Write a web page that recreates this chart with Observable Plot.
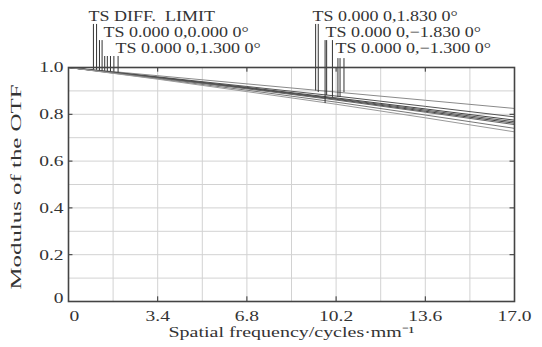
<!DOCTYPE html>
<html><head><meta charset="utf-8">
<script src="https://cdn.jsdelivr.net/npm/d3@7"></script>
<script src="https://cdn.jsdelivr.net/npm/@observablehq/plot@0.6"></script>
<style>
body{margin:0;background:#fff;}
</style></head><body><div id="chart"></div>
<script>
// ---- data ----
const freq = [0, 3.4, 6.8, 10.2, 13.6, 17.0];
const seriesNames = ["DIFF T", "DIFF S", "F0 T", "F0 S", "F13 T", "F13 S", "F183 T", "F183 S"];
const diffT  = [1, 0.965, 0.930, 0.895, 0.860, 0.825];
const diffS  = [1, 0.960, 0.919, 0.878, 0.834, 0.789];
const f0T    = [1, 0.958, 0.915, 0.870, 0.823, 0.775];
const f0S    = [1, 0.957, 0.913, 0.867, 0.818, 0.768];
const f13T   = [1, 0.956, 0.911, 0.864, 0.813, 0.762];
const f13S   = [1, 0.955, 0.909, 0.861, 0.809, 0.756];
const f183T  = [1, 0.952, 0.903, 0.852, 0.797, 0.740];
const f183S  = [1, 0.950, 0.897, 0.843, 0.785, 0.725];
const seriesValues = [diffT, diffS, f0T, f0S, f13T, f13S, f183T, f183S];
const seriesColors = ["#8a8a8a", "#555", "#444", "#555", "#444", "#666", "#777", "#9a9a9a"];

const xTickValues = [0, 3.4, 6.8, 10.2, 13.6, 17.0];
const xTickLabels = ["0", "3.4", "6.8", "10.2", "13.6", "17.0"];
const yTickValues = [0, 0.2, 0.4, 0.6, 0.8, 1.0];
const yTickLabels = ["0", "0.2", "0.4", "0.6", "0.8", "1.0"];
const xGrid = [1.7, 3.4, 5.1, 6.8, 8.5, 10.2, 11.9, 13.6, 15.3];
const yGrid = [0.1, 0.2, 0.3, 0.4, 0.5, 0.6, 0.7, 0.8, 0.9];

const labelTexts = ["TS DIFF.  LIMIT", "TS 0.000 0,0.000 0°", "TS 0.000 0,1.300 0°",
                    "TS 0.000 0,1.830 0°", "TS 0.000 0,\u22121.830 0°", "TS 0.000 0,\u22121.300 0°"];
const labelFreq = [0.76, 1.33, 1.79, 9.30, 9.80, 10.18];
const labelLevel = [1.218, 1.150, 1.081, 1.218, 1.150, 1.081];

const leaderFreq   = [0.95, 1.07, 1.18, 1.28, 1.38, 1.48, 1.60, 1.73, 1.89,
                      9.42, 9.52, 9.78, 9.84, 10.06, 10.27, 10.35, 10.50];
const leaderBottom = [0.990, 0.988, 0.986, 0.985, 0.984, 0.983, 0.982, 0.980, 0.978,
                      0.900, 0.893, 0.846, 0.880, 0.872, 0.872, 0.872, 0.893];
const leaderTop    = [1.184, 1.184, 1.115, 1.115, 1.047, 1.047, 1.047, 1.047, 1.047,
                      1.184, 1.184, 1.115, 1.115, 1.115, 1.038, 1.038, 1.038];

const xTitle = "Spatial frequency/cycles\u00b7mm\u207b\u00b9";
const yTitle = "Modulus of the OTF";

// ---- tables ----
const rows = [];
seriesNames.forEach((s, i) => freq.forEach((f, j) => rows.push({series: s, x: f, y: seriesValues[i][j]})));
const xTicks = xTickValues.map((v, i) => ({v, t: xTickLabels[i]}));
const yTicks = yTickValues.map((v, i) => ({v, t: yTickLabels[i]}));
const labels = labelTexts.map((t, i) => ({t, x: labelFreq[i], y: labelLevel[i]}));
const leaders = leaderFreq.map((x, i) => ({x, y1: leaderBottom[i], y2: leaderTop[i]}));

const ink = "#333";
const chart = Plot.plot({
  width: 542, height: 347,
  marginLeft: 68, marginRight: 28, marginTop: 67, marginBottom: 46,
  x: {domain: [0, 17], axis: null},
  y: {domain: [0, 1], axis: null},
  color: {domain: seriesNames, range: seriesColors},
  style: {fontFamily: "'Liberation Serif', 'Times New Roman', serif", fontSize: "15px", color: ink, background: "#fff"},
  marks: [
    Plot.ruleX(xGrid, {stroke: "#d2d2d2", strokeWidth: 1}),
    Plot.ruleY(yGrid, {stroke: "#d2d2d2", strokeWidth: 1}),
    Plot.ruleX(xTickValues, {y1: 0, y2: 0.02, stroke: ink}),
    Plot.ruleX(xTickValues, {y1: 0.98, y2: 1, stroke: ink}),
    Plot.ruleY(yTickValues, {x1: 0, x2: 0.17, stroke: ink}),
    Plot.ruleY(yTickValues, {x1: 16.83, x2: 17, stroke: ink}),
    Plot.line(rows, {x: "x", y: "y", z: "series", stroke: "series", strokeWidth: 1}),
    Plot.ruleX(leaders, {x: "x", y1: "y1", y2: "y2", stroke: "#333", strokeWidth: 1}),
    Plot.frame({stroke: "#444", strokeWidth: 1.6}),
    Plot.text(xTicks.slice(1), {x: "v", y: 0, text: "t", dy: 15, fill: ink, className: "st"}),
    Plot.text(xTicks.slice(0, 1), {x: "v", y: 0, text: "t", dy: 15, dx: 1, textAnchor: "start", fill: ink, className: "st"}),
    Plot.text(yTicks.slice(1), {x: 0, y: "v", text: "t", dx: -5, textAnchor: "end", fill: ink, className: "st"}),
    Plot.text(yTicks.slice(0, 1), {x: 0, y: "v", text: "t", dx: -5, dy: -3, textAnchor: "end", fill: ink, className: "st"}),
    Plot.text(labels, {x: "x", y: "y", text: "t", textAnchor: "start", fill: ink, className: "sl"}),
    Plot.text([xTitle], {frameAnchor: "bottom", text: d => d, dy: 35, fill: ink, className: "tx"}),
    Plot.text([yTitle], {frameAnchor: "bottom-left", text: d => d, dx: -48, dy: -12, rotate: -90, textAnchor: "start", fill: ink, className: "ty"})
  ]
});
document.getElementById("chart").appendChild(chart);

// horizontally widen the serif text to match the reference's lettering
function stretch(cls, fn) {
  chart.querySelectorAll("g." + cls + " text").forEach(t => {
    const w = t.getComputedTextLength();
    t.setAttribute("textLength", fn(w));
    t.setAttribute("lengthAdjust", "spacingAndGlyphs");
  });
}
stretch("st", w => w * 1.3);
stretch("sl", w => w * 1.2);
stretch("tx", w => 246);
stretch("ty", w => 205);
</script></body></html>
